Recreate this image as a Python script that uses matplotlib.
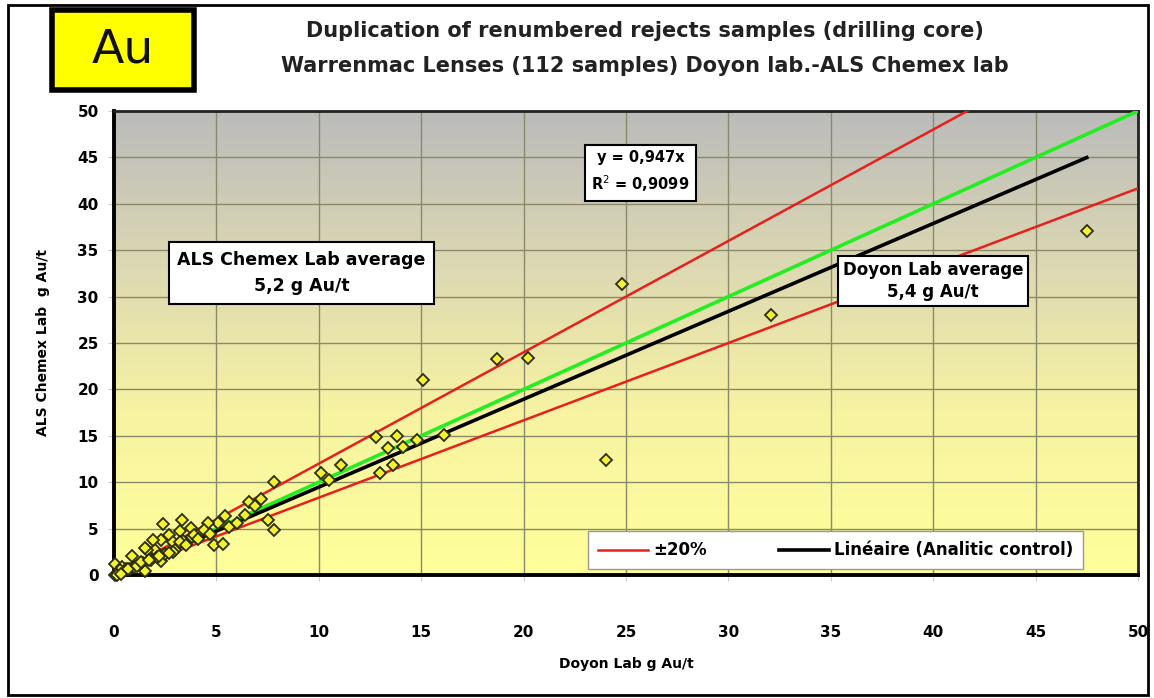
import matplotlib
matplotlib.use("Agg")
import numpy as np
import matplotlib.pyplot as plt
from matplotlib.colors import LinearSegmentedColormap
from matplotlib.patches import Rectangle
from matplotlib.lines import Line2D

# Doyon lab (x) vs ALS Chemex lab (y), g Au/t
doyon = [47.5, 32.1, 24.8, 24.0, 20.2, 18.7, 15.1, 16.1, 14.8, 14.1, 13.8, 13.4,
         12.8, 13.6, 13.0, 11.1, 10.1, 10.5,
         7.8, 6.6, 7.2, 6.9, 7.5, 7.8, 6.4, 5.4, 5.1, 4.6, 4.4, 4.9, 5.3,
         3.3, 2.4, 3.75, 3.2, 2.7, 3.8, 3.35, 2.9, 2.3, 2.0, 1.6, 2.3, 1.4,
         0.9, 0.05, 0.05, 0.6, 1.5, 3.0, 3.9, 1.9, 1.5, 0.4, 2.9, 3.2,
         0.2, 0.5, 0.8, 1.0, 1.2, 1.8, 2.1, 2.5, 2.7, 3.5, 4.1, 4.7, 5.6,
         6.0, 0.3, 0.7, 1.1, 1.3, 1.7, 2.2, 0.15, 0.35]
chemex = [37.1, 28.0, 31.4, 12.4, 23.4, 23.3, 21.0, 15.1, 14.6, 13.8, 15.0, 13.7,
          14.9, 11.8, 11.0, 11.9, 11.0, 10.2,
          10.0, 7.9, 8.2, 7.4, 5.9, 4.8, 6.5, 6.4, 5.6, 5.6, 4.9, 3.2, 3.3,
          5.9, 5.5, 5.1, 4.7, 4.3, 4.1, 3.7, 3.6, 3.8, 2.7, 2.7, 1.5, 1.3,
          2.0, 1.2, 0.0, 0.7, 0.4, 2.7, 4.3, 3.8, 2.9, 0.9, 2.5, 3.6,
          0.2, 0.4, 0.7, 0.9, 1.1, 1.6, 1.9, 2.3, 2.4, 3.2, 3.9, 4.4, 5.2,
          5.6, 0.5, 0.6, 1.0, 1.4, 1.6, 2.1, 0.0, 0.1]

fit_slope = 0.947
fit_xmax = 47.5
tolerance = 0.20
axis_max = 50
ticks = list(range(0, 55, 5))

fig = plt.figure(figsize=(11.54, 6.98), dpi=100)
ax = fig.add_axes([114 / 1154, 1 - 575 / 698, 1024 / 1154, 464 / 698])

# gray -> yellow gradient background
cmap = LinearSegmentedColormap.from_list(
    "bg", [(0.0, "#ffff9a"), (0.35, "#f7f3a2"), (0.65, "#dedab2"), (1.0, "#bbbbbb")])
grad = np.linspace(0, 1, 256).reshape(-1, 1)
ax.imshow(grad, aspect="auto", cmap=cmap, origin="lower",
          extent=[0, axis_max, 0, axis_max], zorder=0)

ax.set_xlim(0, axis_max)
ax.set_ylim(0, axis_max)
ax.set_xticks(ticks)
ax.set_yticks(ticks)
ax.grid(True, color="#8a8a6a", lw=1.0, zorder=1)

xs = np.array([0, axis_max])
ax.plot(xs, xs * (1 + tolerance), color="#e8201c", lw=1.8, zorder=3)
ax.plot(xs, xs / (1 + tolerance), color="#e8201c", lw=1.8, zorder=3)
ax.plot(xs, xs, color="#22ee22", lw=2.6, zorder=3)
xf = np.array([0, fit_xmax])
ax.plot(xf, xf * fit_slope, color="black", lw=2.6, zorder=4)

ax.plot(doyon, chemex, ls="none", marker="D", ms=6.5, mfc="#f2f230",
        mec="#2d2d10", mew=1.3, zorder=5, clip_on=False)

for side in ["left", "bottom"]:
    ax.spines[side].set_linewidth(2.8)
for side in ["top", "right"]:
    ax.spines[side].set_linewidth(2.0)
    ax.spines[side].set_color("#222222")

ax.tick_params(axis="x", length=4, color="#cccccc", pad=32, labelsize=11)
ax.tick_params(axis="y", length=4, color="#cccccc", pad=7, labelsize=11)
for lab in ax.get_xticklabels() + ax.get_yticklabels():
    lab.set_fontweight("bold")

ax.set_xlabel("Doyon Lab g Au/t", fontsize=10, fontweight="bold", labelpad=12)
ax.set_ylabel("ALS Chemex Lab  g Au/t", fontsize=10, fontweight="bold", labelpad=20)

ax.text(0.514, 0.868, "y = 0,947x\nR$^2$ = 0,9099", transform=ax.transAxes,
        ha="center", va="center", fontsize=10.5, fontweight="bold",
        linespacing=1.5, bbox=dict(boxstyle="square,pad=0.45", fc="white", ec="black", lw=1.5),
        zorder=6)
ax.text(0.183, 0.651, "ALS Chemex Lab average\n5,2 g Au/t", transform=ax.transAxes,
        ha="center", va="center", fontsize=12.5, fontweight="bold",
        linespacing=1.6, bbox=dict(boxstyle="square,pad=0.5", fc="white", ec="black", lw=1.5),
        zorder=6)
ax.text(0.80, 0.634, "Doyon Lab average\n5,4 g Au/t", transform=ax.transAxes,
        ha="center", va="center", fontsize=12, fontweight="bold",
        linespacing=1.3, bbox=dict(boxstyle="square,pad=0.3", fc="white", ec="black", lw=1.5),
        zorder=6)

handles = [Line2D([], [], color="#e8201c", lw=1.8),
           Line2D([], [], color="black", lw=2.6)]
leg = ax.legend(handles, ["±20%", "Linéaire (Analitic control)"], ncol=2,
                loc="lower left", bbox_to_anchor=(0.455, -0.006), frameon=True,
                fancybox=False, edgecolor="#999999", framealpha=1,
                prop=dict(size=12, weight="bold"), handlelength=3.0,
                handletextpad=0.3, columnspacing=4.3, borderpad=0.6)
leg.set_zorder(7)

# titles
fig.text(0.559, 0.955, "Duplication of renumbered rejects samples (drilling core)",
         ha="center", va="center", fontsize=15, fontweight="bold", color="#222222")
fig.text(0.559, 0.906, "Warrenmac Lenses (112 samples) Doyon lab.-ALS Chemex lab",
         ha="center", va="center", fontsize=15, fontweight="bold", color="#222222")

# Au tag
fig.patches.append(Rectangle((52 / 1154, 1 - 90 / 698), 142 / 1154, 80 / 698,
                             transform=fig.transFigure, fc="#ffff00", ec="black", lw=4))
fig.text(0.106, 0.928, "Au", ha="center", va="center", fontsize=34, color="#111111")

# outer frame
fig.patches.append(Rectangle((8 / 1154, 3 / 698), 1140 / 1154, 690 / 698,
                             transform=fig.transFigure, fill=False, ec="black", lw=2))

fig.savefig("out.png", dpi=100)
